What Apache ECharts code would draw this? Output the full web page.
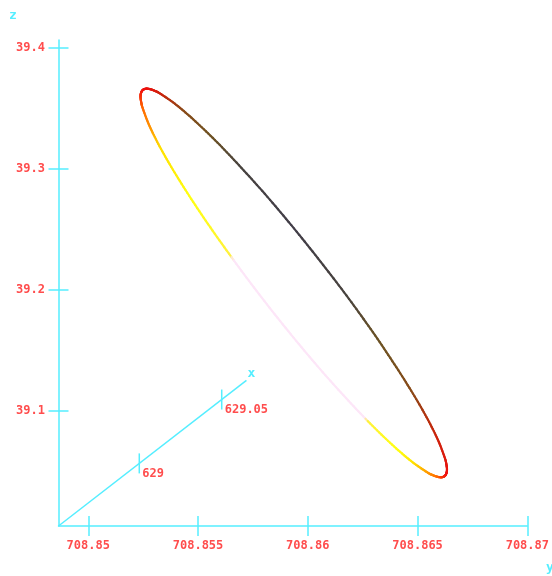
<!DOCTYPE html>
<html><head><meta charset="utf-8">
<script src="https://cdn.jsdelivr.net/npm/echarts@6/dist/echarts.min.js"></script>
<style>html,body{margin:0;padding:0;background:#fff}#c{width:552px;height:576px}</style>
</head><body><div id="c"></div>
<script>
// ---- data ----
const yTicks = [708.85, 708.855, 708.86, 708.865, 708.87];
const zTicks = [39.1, 39.2, 39.3, 39.4];
const xTicks = [629, 629.05];
const yRange = [708.848644, 708.87];
const zRange = [39.00504, 39.40636];
const xRange = [628.951, 629.065];
// curve (closed loop): horizontal value (y), vertical value (z), colour value
const curveY = [708.86623, 708.86631, 708.86634, 708.86631, 708.86623, 708.86592, 708.86541, 708.86471,
  708.86385, 708.86286, 708.86176, 708.86058, 708.85937, 708.85816, 708.85698, 708.85588,
  708.85488, 708.85402, 708.85332, 708.85304, 708.85281, 708.85262, 708.85249, 708.85241,
  708.85238, 708.85241, 708.85249, 708.85280, 708.85331, 708.85401, 708.85487, 708.85587,
  708.85697, 708.85814, 708.85935, 708.86056, 708.86174, 708.86284, 708.86384, 708.86470,
  708.86540, 708.86568, 708.86592, 708.86610];
const curveZ = [39.04624, 39.04839, 39.05173, 39.05625, 39.06190, 39.07645, 39.09491, 39.11673,
  39.14127, 39.16777, 39.19542, 39.22337, 39.25078, 39.27684, 39.30073, 39.32173,
  39.33920, 39.35263, 39.36160, 39.36431, 39.36580, 39.36611, 39.36516, 39.36302,
  39.35967, 39.35516, 39.34951, 39.33496, 39.31649, 39.29467, 39.27014, 39.24364,
  39.21598, 39.18804, 39.16062, 39.13457, 39.11068, 39.08968, 39.07220, 39.05878,
  39.04981, 39.04710, 39.04561, 39.04530];
const curveC = [0.03, 0, -0.02, -0.04, -0.06, -0.1, -0.18, -0.3,
  -0.45, -0.55, -0.7, -0.85, -1, -0.9, -0.72, -0.55,
  -0.4, -0.25, -0.12, -0.07, -0.04, -0.02, 0, 0.02,
  0.05, 0.09, 0.14, 0.25, 0.45, 0.5, 0.57, 0.63,
  0.75, 0.9, 1, 0.95, 0.85, 0.68, 0.58, 0.48,
  0.3, 0.22, 0.15, 0.08];

// ---- style ----
const AX = '#55eeff', LB = '#ff4d4d';
const FONT = "'DejaVu Sans Mono','Liberation Mono',monospace";
const xProj = [0.0751, 1.055]; // screen direction of the oblique x axis (per unit x)
const cStops = [-1, -0.7, -0.5, -0.3, -0.15, 0, 0.15, 0.3, 0.45, 0.55, 0.7, 0.71, 1];
const cCols = ['#423e48', '#48433e', '#6e5222', '#8a4a18', '#c02a0c', '#f01010', '#ff6a00', '#ffa000',
  '#ffe000', '#ffff10', '#fff040', '#fde6f8', '#fde6f8'];

function hex(c){return [parseInt(c.substr(1,2),16),parseInt(c.substr(3,2),16),parseInt(c.substr(5,2),16)];}
function colorAt(v){
  if (v <= cStops[0]) return cCols[0];
  for (let i = 1; i < cStops.length; i++) {
    if (v <= cStops[i]) {
      const t = (v - cStops[i-1]) / (cStops[i] - cStops[i-1]);
      const a = hex(cCols[i-1]), b = hex(cCols[i]);
      return 'rgb(' + a.map((x, k) => Math.round(x + (b[k]-x)*t)).join(',') + ')';
    }
  }
  return cCols[cCols.length-1];
}
const fmt = v => String(parseFloat((+v).toFixed(6)));

function axisPair(range, ticks, isX){
  const base = {
    type: 'value', min: range[0], max: range[1], scale: true,
    splitLine: {show: false}
  };
  const pos = isX ? 'bottom' : 'left';
  return [
    Object.assign({}, base, {
      position: pos,
      axisLine: {show: true, onZero: false, lineStyle: {color: AX, width: 1.5}},
      axisTick: {show: true, inside: false, length: 10, customValues: ticks, lineStyle: {color: AX, width: 1.5}},
      axisLabel: {show: true, customValues: ticks, color: LB, fontFamily: FONT, fontSize: 12, fontWeight: 'bold',
        margin: isX ? 14 : 13.5, formatter: fmt}
    }),
    Object.assign({}, base, {
      position: pos,
      axisLine: {show: false, onZero: false},
      axisTick: {show: true, inside: true, length: 10, customValues: ticks, lineStyle: {color: AX, width: 1.5}},
      axisLabel: {show: false}
    })
  ];
}

const chart = echarts.init(document.getElementById('c'), null, {renderer: 'canvas'});
chart.setOption({
  animation: false,
  backgroundColor: '#fff',
  grid: {left: 58.5, top: 40, right: 19.3, bottom: 50, containLabel: false},
  xAxis: axisPair(yRange, yTicks, true),
  yAxis: axisPair(zRange, zTicks, false),
  graphic: [
    {type: 'text', x: 13, y: 16, style: {text: 'z', fill: AX, font: "bold 13px " + FONT, textAlign: 'center', textVerticalAlign: 'middle'}},
    {type: 'text', x: 550, y: 568, style: {text: 'y', fill: AX, font: "bold 13px " + FONT, textAlign: 'center', textVerticalAlign: 'middle'}}
  ],
  series: [
    {
      type: 'custom', coordinateSystem: 'cartesian2d', xAxisIndex: 0, yAxisIndex: 0,
      silent: true, clip: false,
      data: [[yRange[0], zRange[0]]],
      encode: {x: 0, y: 1},
      renderItem: function (params, api) {
        const proj = xv => api.coord([yRange[0] + (xv - xRange[0]) * xProj[0], zRange[0] + (xv - xRange[0]) * xProj[1]]);
        const a = proj(xRange[0]), b = proj(xRange[1]);
        const ch = [{type: 'line', shape: {x1: a[0], y1: a[1], x2: b[0], y2: b[1]}, style: {stroke: AX, lineWidth: 1.5}}];
        xTicks.forEach(t => {
          const p = proj(t);
          ch.push({type: 'line', shape: {x1: p[0], y1: p[1] - 10, x2: p[0], y2: p[1] + 10}, style: {stroke: AX, lineWidth: 1.5}});
          ch.push({type: 'text', x: p[0] + 3, y: p[1] + 10, style: {text: fmt(t), fill: LB, font: "bold 12px " + FONT, textAlign: 'left', textVerticalAlign: 'middle'}});
        });
        ch.push({type: 'text', x: b[0] + 5, y: b[1] - 7, style: {text: 'x', fill: AX, font: "bold 13px " + FONT, textAlign: 'center', textVerticalAlign: 'middle'}});
        return {type: 'group', children: ch};
      }
    },
    {
      type: 'custom', coordinateSystem: 'cartesian2d', xAxisIndex: 0, yAxisIndex: 0,
      silent: true, clip: false,
      data: curveY.map((y, i) => [y, curveZ[i], curveC[i]]),
      encode: {x: 0, y: 1},
      renderItem: function (params, api) {
        const n = curveY.length, i = params.dataIndex;
        const P = k => api.coord([curveY[(k + n) % n], curveZ[(k + n) % n]]);
        const p0 = P(i - 1), p1 = P(i), p2 = P(i + 1), p3 = P(i + 2);
        const c1 = curveC[i], c2 = curveC[(i + 1) % n];
        const b1 = [p1[0] + (p2[0] - p0[0]) / 6, p1[1] + (p2[1] - p0[1]) / 6];
        const b2 = [p2[0] - (p3[0] - p1[0]) / 6, p2[1] - (p3[1] - p1[1]) / 6];
        const N = 10, ch = [];
        let prev = p1;
        for (let k = 1; k <= N; k++) {
          const t = k / N, u = 1 - t;
          const pt = [u*u*u*p1[0] + 3*u*u*t*b1[0] + 3*u*t*t*b2[0] + t*t*t*p2[0],
                      u*u*u*p1[1] + 3*u*u*t*b1[1] + 3*u*t*t*b2[1] + t*t*t*p2[1]];
          ch.push({type: 'line', shape: {x1: prev[0], y1: prev[1], x2: pt[0], y2: pt[1]},
            style: {stroke: colorAt(c1 + (c2 - c1) * (k - 0.5) / N), lineWidth: 2.2, lineCap: 'round'}});
          prev = pt;
        }
        return {type: 'group', children: ch};
      }
    }
  ]
});
</script>
</body></html>
